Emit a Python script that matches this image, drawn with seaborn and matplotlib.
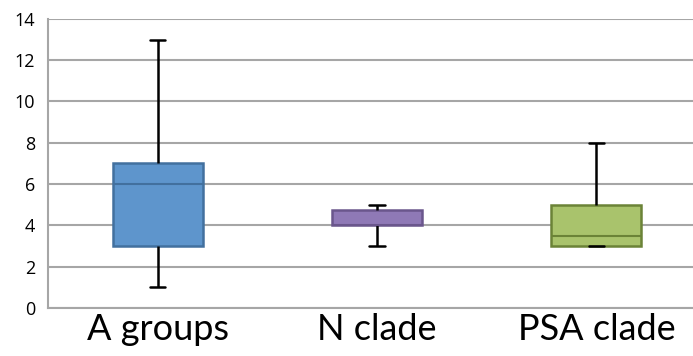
import pandas as pd
import seaborn as sns
import matplotlib.pyplot as plt

# five-number summaries: min, Q1, median, Q3, max
groups = ['A groups', 'N clade', 'PSA clade']
a_groups = [1, 3, 6, 7, 13]
n_clade = [3, 4, 4, 4.75, 5]
psa_clade = [3, 3, 3.5, 5, 8]

face_colors = ['#5E95CC', '#8F79B6', '#A9C36C']
edge_colors = ['#42709E', '#6A568C', '#6B8337']

df = pd.DataFrame({
    'group': [groups[0]] * 5 + [groups[1]] * 5 + [groups[2]] * 5,
    'value': a_groups + n_clade + psa_clade,
})

sns.set_style('white')
fig = plt.figure(figsize=(6.93, 3.56), dpi=100)
ax = fig.add_axes([0.069, 0.135, 0.931, 0.812])

sns.boxplot(data=df, x='group', y='value', hue='group', palette=face_colors,
            legend=False, whis=(0, 100), width=0.41, linewidth=2,
            whiskerprops={'color': 'black', 'linewidth': 1.8},
            capprops={'color': 'black', 'linewidth': 1.8},
            capwidths=0.07, saturation=1, ax=ax, zorder=3)

for cont, ec in zip(ax.containers, edge_colors):
    for b in cont.boxes:
        b.set_edgecolor(ec)
        b.set_linewidth(1.8)
    for m in cont.medians:
        m.set_color(ec)
        m.set_linewidth(1.5)

ax.set_ylim(0, 14)
ax.set_xlim(-0.5, 2.44)
ax.set_yticks(range(0, 15, 2))
ax.yaxis.grid(True, color='#A6A6A6', linewidth=1.5, zorder=0)
ax.set_axisbelow(True)

ax.set_xticks([0, 1, 2])
ax.set_xticklabels(groups, fontsize=26, family='Lato', color='black')
ax.set_xticks([-0.5, 0.5, 1.5], minor=True)
ax.tick_params(axis='x', which='major', length=0, pad=4)
ax.tick_params(axis='x', which='minor', length=5, width=1.5, color='#A6A6A6', direction='out')
ax.tick_params(axis='y', length=6, width=1.5, color='#A6A6A6', direction='out',
               labelsize=13, pad=3, labelcolor='black')
for lab in ax.get_yticklabels():
    lab.set_family('Open Sans')

for s in ['top', 'right']:
    ax.spines[s].set_visible(False)
for s in ['left', 'bottom']:
    ax.spines[s].set_color('#A6A6A6')
    ax.spines[s].set_linewidth(1.5)

ax.set_xlabel('')
ax.set_ylabel('')
fig.savefig('out.png', dpi=100)
